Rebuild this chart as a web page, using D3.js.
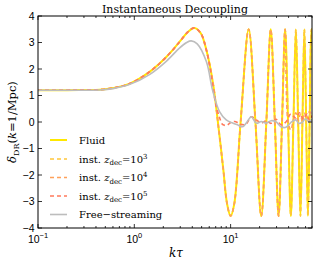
<!DOCTYPE html>
<html>
<head>
<meta charset="utf-8">
<script src="https://cdn.jsdelivr.net/npm/d3@7"></script>
<style>
body { margin: 0; background: #fff; }
svg { display: block; }
</style>
</head>
<body>
<script>
// values
var kFluid = [0.1, 0.2, 0.3, 0.44, 0.6, 0.9, 1.45, 2.16, 2.96, 3.6, 4.2, 4.9, 5.6, 6.56, 7.4, 8.4, 9.2, 10, 10.9, 12.7,
    15.4, 18.1, 20.8, 23.5, 26.1, 28.8, 31.5, 34.2, 36.8, 39.5, 42.2, 44.9, 47.6, 50.3, 53.1, 55.7, 58.3, 60.9, 63.5, 66.2, 69, 70];
var deltaFluid = [1.2, 1.2, 1.21, 1.22, 1.28, 1.45, 1.9, 2.46, 3.03, 3.4, 3.55, 3.35, 2.72, 1.47, -0.04, -1.8, -3.1, -3.55, -3.1, 0,
    3.5, 0, -3.55, 0, 3.5, 0, -3.55, 0, 3.5, 0, -3.55, 0, 3.5, 0, -3.55, 0, 3.5, 0, -3.55, 0, 3.5, 3.4];

var kZ3 = kFluid;
var deltaZ3 = deltaFluid;

var kZ4 = [0.1, 0.2, 0.3, 0.44, 0.6, 0.9, 1.45, 2.16, 2.96, 3.6, 4.2, 4.9, 5.6, 6.56, 7.4, 8.4, 9.2, 10, 10.9, 12.7,
    15.4, 18.1, 20.8, 23.5, 26.1, 28.8, 31.5, 34.2, 36.8, 39.5, 42.2, 44.9, 47.6, 50.3, 53.1, 55.7, 58.3, 62, 66, 70];
var deltaZ4 = [1.2, 1.2, 1.21, 1.22, 1.28, 1.45, 1.9, 2.46, 3.03, 3.4, 3.55, 3.35, 2.72, 1.47, -0.04, -1.8, -3.1, -3.55, -3.1, 0,
    3.5, 0, -3.55, 0, 3.5, 0, -3.55, 0, 3.5, 0, -0.3, 0.1, 0.35, 0.05, 0.3, 0.0, 0.35, 0.1, 0.4, 0.2];

var kZ5 = [0.1, 0.2, 0.3, 0.44, 0.6, 0.9, 1.45, 2.16, 2.96, 3.6, 4.2, 4.9, 5.6, 6.2, 6.9, 7.7, 8.3, 9.2, 10, 11, 12.2, 13.3, 14.5,
    16.4, 18.5, 20.8, 23.4, 26.3, 29.6, 33.4, 37.5, 42.2, 47.5, 52, 57, 62, 66, 70];
var deltaZ5 = [1.2, 1.2, 1.21, 1.22, 1.28, 1.45, 1.9, 2.46, 3.03, 3.4, 3.55, 3.35, 2.72, 1.9, 0.8, 0.15, -0.1, -0.12, -0.02, 0.02, -0.05, -0.1, -0.08,
    0.2, 0.08, -0.04, 0.05, -0.05, 0.1, -0.1, 0.0, 0.3, 0.15, 0.35, 0.1, 0.3, 0.05, 0.25];

var kFree = [0.1, 0.2, 0.44, 0.6, 0.9, 1.45, 2.16, 2.96, 3.5, 3.9, 4.5, 5.6, 6.5, 7.7, 9.0, 10.5, 12, 13.3, 14.8, 16.4,
    18.5, 20.8, 23.4, 26.3, 29.6, 33.4, 37.5, 42.2, 47.5, 51, 55.2, 60, 64.8, 70];
var deltaFree = [1.2, 1.2, 1.21, 1.26, 1.42, 1.8, 2.3, 2.8, 3.0, 3.06, 2.95, 2.28, 1.2, 0.38, 0.08, -0.04, -0.12, -0.18, 0.0, 0.2,
    -0.05, 0.02, -0.04, 0.05, 0.01, -0.18, -0.2, -0.02, 0.08, -0.05, -0.02, 0.12, 0.01, 0.1];

var xMajor = [0.1, 1, 10];
var xMajorExp = ["\u22121", "0", "1"];
var yTicks = [-4, -3, -2, -1, 0, 1, 2, 3, 4];

var seriesNames = ["Fluid", "z3", "z4", "z5", "Free\u2212streaming"];
var seriesColors = ["#ffe800", "#ffc63a", "#ffa15a", "#ff7a5c", "#bdbdbd"];

(function() {
    var width = 316, height = 265;
    var mL = 38, mR = 312, mT = 16, mB = 228;

    var svg = d3.select("body").append("svg").attr("width", width).attr("height", height);

    var x = d3.scaleLog().domain([0.1, 70]).range([mL, mR]);
    var y = d3.scaleLinear().domain([-4, 4]).range([mB, mT]);

    var xMinor = [];
    [0.1, 1, 10].forEach(function(d) {
        for (var i = 2; i <= 9; i++) if (d * i <= 70) xMinor.push(d * i);
    });

    svg.append("clipPath").attr("id", "clip").append("rect")
        .attr("x", mL).attr("y", mT).attr("width", mR - mL).attr("height", mB - mT);

    var line = d3.line()
        .x(function(d) { return x(d[0]); })
        .y(function(d) { return y(d[1]); })
        .curve(d3.curveCatmullRom.alpha(0.5));

    function pairs(ks, vs) { return ks.map(function(k, i) { return [k, vs[i]]; }); }

    var plot = svg.append("g").attr("clip-path", "url(#clip)");
    var curves = [
        {data: pairs(kFluid, deltaFluid), color: seriesColors[0], w: 2, dash: null},
        {data: pairs(kZ3, deltaZ3), color: seriesColors[1], w: 1.6, dash: "4,3"},
        {data: pairs(kZ4, deltaZ4), color: seriesColors[2], w: 1.6, dash: "4,3"},
        {data: pairs(kZ5, deltaZ5), color: seriesColors[3], w: 1.6, dash: "4,3"},
        {data: pairs(kFree, deltaFree), color: seriesColors[4], w: 1.6, dash: null}
    ];
    curves.forEach(function(c) {
        plot.append("path").attr("d", line(c.data))
            .attr("fill", "none").attr("stroke", c.color)
            .attr("stroke-width", c.w)
            .attr("stroke-dasharray", c.dash);
    });

    // ticks, inward, on all four sides
    var ax = svg.append("g").attr("stroke", "#000").attr("stroke-width", 0.8);
    xMajor.forEach(function(d) {
        ax.append("line").attr("x1", x(d)).attr("x2", x(d)).attr("y1", mB).attr("y2", mB - 4);
        ax.append("line").attr("x1", x(d)).attr("x2", x(d)).attr("y1", mT).attr("y2", mT + 4);
    });
    xMinor.forEach(function(d) {
        ax.append("line").attr("x1", x(d)).attr("x2", x(d)).attr("y1", mB).attr("y2", mB - 2);
        ax.append("line").attr("x1", x(d)).attr("x2", x(d)).attr("y1", mT).attr("y2", mT + 2);
    });
    yTicks.forEach(function(d) {
        ax.append("line").attr("x1", mL).attr("x2", mL + 4).attr("y1", y(d)).attr("y2", y(d));
        ax.append("line").attr("x1", mR).attr("x2", mR - 4).attr("y1", y(d)).attr("y2", y(d));
    });
    svg.append("rect").attr("x", mL).attr("y", mT).attr("width", mR - mL).attr("height", mB - mT)
        .attr("fill", "none").attr("stroke", "#000").attr("stroke-width", 1);

    // tick labels
    var tickFont = "'Liberation Sans', Arial, sans-serif";
    xMajor.forEach(function(d, i) {
        var t = svg.append("text").attr("x", x(d)).attr("y", 242.5)
            .attr("text-anchor", "middle").attr("font-family", tickFont).attr("font-size", 10.5);
        t.append("tspan").text("10");
        t.append("tspan").attr("dy", -4.5).attr("font-size", 7.5).text(xMajorExp[i]);
    });
    yTicks.forEach(function(d) {
        svg.append("text").attr("x", 34.5).attr("y", y(d) + 3.6)
            .attr("text-anchor", "end").attr("font-family", tickFont).attr("font-size", 10.5)
            .text(d < 0 ? "\u2212" + Math.abs(d) : d);
    });

    var serif = "'DejaVu Serif', serif";
    svg.append("text").attr("x", (mL + mR) / 2).attr("y", 12.5).attr("text-anchor", "middle")
        .attr("font-family", serif).attr("font-size", 11).text("Instantaneous Decoupling");

    svg.append("text").attr("x", 176).attr("y", 257).attr("text-anchor", "middle")
        .attr("font-family", serif).attr("font-size", 12).attr("font-style", "italic").text("k\u03c4");

    var yl = svg.append("text").attr("transform", "translate(16,122) rotate(-90)").attr("text-anchor", "middle")
        .attr("font-family", serif).attr("font-size", 11.5);
    yl.append("tspan").attr("font-style", "italic").text("\u03b4");
    yl.append("tspan").attr("dy", 3).attr("font-size", 8).text("DR");
    yl.append("tspan").attr("dy", -3).text("(");
    yl.append("tspan").attr("font-style", "italic").text("k");
    yl.append("tspan").text("=1/Mpc)");

    // legend
    var rowY = [140, 159, 177.5, 196, 214.5];
    var leg = svg.append("g");
    curves.forEach(function(c, i) {
        leg.append("line").attr("x1", 50).attr("x2", 67).attr("y1", rowY[i]).attr("y2", rowY[i])
            .attr("stroke", c.color).attr("stroke-width", c.w).attr("stroke-dasharray", c.dash);
        var t = leg.append("text").attr("x", 79).attr("y", rowY[i] + 3.5)
            .attr("font-family", serif).attr("font-size", 10);
        if (i == 0 || i == 4) {
            t.text(seriesNames[i]);
        } else {
            t.append("tspan").text("inst. ");
            t.append("tspan").attr("font-style", "italic").text("z");
            t.append("tspan").attr("dy", 2.5).attr("font-size", 7).text("dec");
            t.append("tspan").attr("dy", -2.5).text("=10");
            t.append("tspan").attr("dy", -4).attr("font-size", 7).text(String(i + 2));
        }
    });
})();
</script>
</body>
</html>
